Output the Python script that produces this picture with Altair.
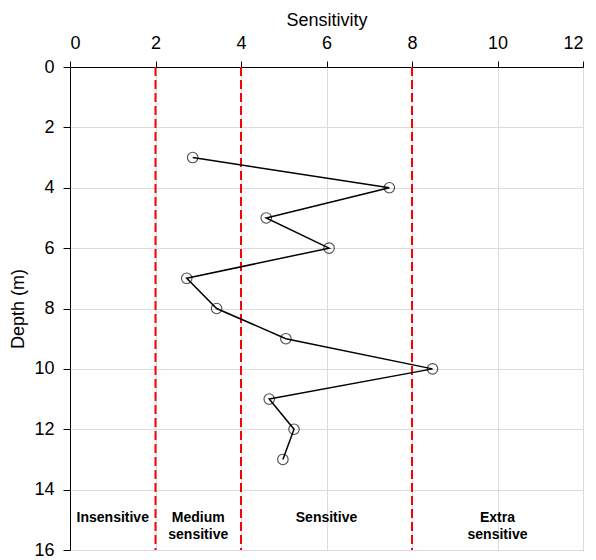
import altair as alt
import pandas as pd

depth = [3, 4, 5, 6, 7, 8, 9, 10, 11, 12, 13]
sensitivity = [2.87, 7.47, 4.59, 6.06, 2.73, 3.43, 5.05, 8.48, 4.66, 5.24, 4.98]

boundaries = [2, 4, 8]

zone_x = [1, 3, 6, 10]
zone_y = [14.95, 14.95, 14.95, 14.95]
zone_text = ["Insensitive", "Medium\nsensitive", "Sensitive", "Extra\nsensitive"]

df = pd.DataFrame({"Depth": depth, "Sensitivity": sensitivity})
bdf = pd.DataFrame({"b": boundaries})
zdf = pd.DataFrame({"x": zone_x, "y": zone_y, "t": zone_text})

FONT = "Liberation Sans"

xscale = alt.Scale(domain=[0, 12], nice=False, zero=False)
yscale = alt.Scale(domain=[0, 16], reverse=True, nice=False, zero=False)

xaxis = alt.Axis(orient="top", values=list(range(0, 13, 2)), title="Sensitivity",
                 labelFontSize=18, titleFontSize=18, labelFont=FONT, titleFont=FONT,
                 titleFontWeight="normal", labelColor="black", titleColor="black",
                 tickColor="black", domainColor="black", tickSize=6, labelPadding=9,
                 titlePadding=5, gridColor="#dcdcdc", grid=True)
yaxis = alt.Axis(values=list(range(0, 17, 2)), title="Depth (m)",
                 labelFontSize=18, titleFontSize=18, labelFont=FONT, titleFont=FONT,
                 titleFontWeight="normal", labelColor="black", titleColor="black",
                 tickColor="black", domainColor="black", tickSize=7, labelPadding=9,
                 titlePadding=6, gridColor="#dcdcdc", grid=True)

base_line = alt.Chart(df).mark_line(color="black", strokeWidth=1.5, order=False).encode(
    x=alt.X("Sensitivity:Q", scale=xscale, axis=xaxis),
    y=alt.Y("Depth:Q", scale=yscale, axis=yaxis),
    order="Depth:Q",
)

pts = alt.Chart(df).mark_point(shape="circle", filled=False, color="black", size=110, strokeWidth=1.1).encode(
    x=alt.X("Sensitivity:Q", scale=xscale),
    y=alt.Y("Depth:Q", scale=yscale),
)

rules = alt.Chart(bdf).mark_rule(color="#ff0000", strokeWidth=2, strokeDash=[9, 4]).encode(
    x=alt.X("b:Q", scale=xscale),
)

texts = alt.Chart(zdf).mark_text(font=FONT, fontSize=14, fontWeight="bold", color="black",
                                   lineBreak="\n", lineHeight=17, align="center",
                                   baseline="middle").encode(
    x=alt.X("x:Q", scale=xscale),
    y=alt.Y("y:Q", scale=yscale),
    text="t:N",
)

chart = alt.layer(rules, base_line, pts, texts).properties(
    width=513, height=483,
    autosize=alt.AutoSizeParams(type="none"),
    padding={"left": 62, "top": 59, "right": 5, "bottom": 12},
    background="white",
).configure_view(stroke="#333333", strokeWidth=1)

chart.save("out.html", embed_options={"renderer": "svg", "actions": False})
